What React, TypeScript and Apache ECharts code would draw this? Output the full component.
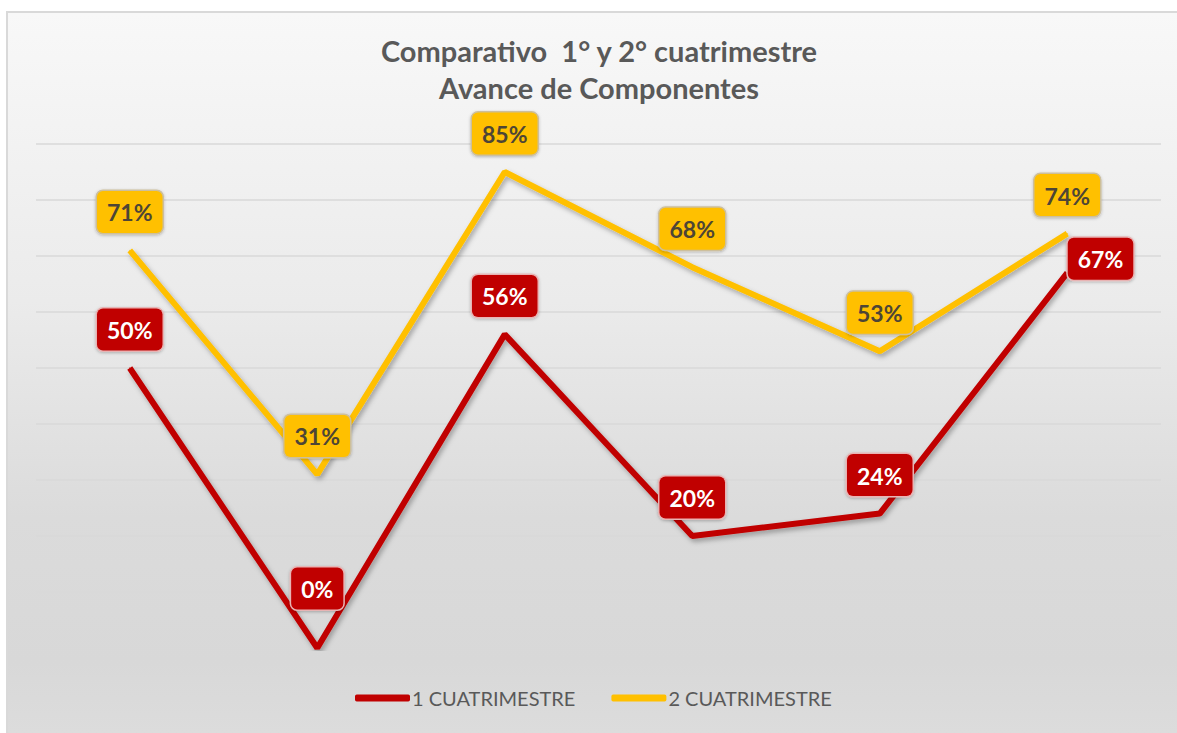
import React, { useEffect, useRef } from "react";
import * as echarts from "echarts";

const categories = ["C1", "C2", "C3", "C4", "C5", "C6"];
const serie1Name = "1 CUATRIMESTRE";
const serie2Name = "2 CUATRIMESTRE";
const serie1 = [50, 0, 56, 20, 24, 67];
const serie2 = [71, 31, 85, 68, 53, 74];
const titleLines = ["Comparativo  1° y 2° cuatrimestre", "Avance de Componentes"];

const RED = "#C00000";
const YELLOW = "#FFC000";
const FONT = "Lato, 'Open Sans', sans-serif";

export default function App() {
  const ref = useRef<HTMLDivElement>(null);
  useEffect(() => {
    if (!ref.current) return;
    const chart = echarts.init(ref.current, null, { renderer: "svg" });
    const labelBase = {
      show: true,
      position: "top",
      distance: 17,
      formatter: "{c}%",
      fontFamily: FONT,
      fontWeight: "bold",
      fontSize: 23,
      padding: [10, 10, 9, 10],
      borderRadius: 6,
      borderWidth: 1.5,
      shadowColor: "rgba(0,0,0,0.25)",
      shadowBlur: 3,
      shadowOffsetY: 1,
    };
    chart.setOption({
      animation: false,
      backgroundColor: "transparent",
      title: {
        text: titleLines.join("\n"),
        left: 594,
        textAlign: "center",
        top: 27,
        textStyle: {
          fontFamily: FONT,
          fontWeight: "bold",
          fontSize: 29,
          lineHeight: 37,
          color: "#595959",
        },
      },
      legend: {
        data: [serie1Name, serie2Name],
        bottom: 20,
        left: 350,
        icon: "roundRect",
        itemWidth: 55,
        itemHeight: 7,
        itemGap: 36,
        textStyle: { fontFamily: FONT, fontSize: 20, color: "#595959", padding: [0, 0, 0, -3] },
      },
      grid: { left: 36, right: 16, top: 144, bottom: 85 },
      xAxis: {
        type: "category",
        data: categories,
        boundaryGap: true,
        axisLine: { show: false },
        axisTick: { show: false },
        axisLabel: { show: false },
      },
      yAxis: {
        type: "value",
        min: 0,
        max: 90,
        interval: 10,
        axisLine: { show: false },
        axisTick: { show: false },
        axisLabel: { show: false },
        splitLine: { show: true, lineStyle: { color: "#d8d8d8", width: 1.5 } },
      },
      series: [
        {
          name: serie1Name,
          type: "line",
          data: serie1.map((v, i) =>
            i === 5
              ? { value: v, label: { position: "right", distance: 0, offset: [0, -14] } }
              : i === 1
              ? { value: v, label: { offset: [0, -21] } }
              : v
          ),
          symbol: "circle",
          symbolSize: 1,
          itemStyle: { color: RED },
          lineStyle: {
            color: RED,
            width: 6,
            shadowColor: "rgba(0,0,0,0.3)",
            shadowBlur: 5,
            shadowOffsetX: 2,
            shadowOffsetY: 3,
          },
          label: {
            ...labelBase,
            color: "#ffffff",
            backgroundColor: RED,
            borderColor: "#e8b4b4",
          },
          z: 3,
        },
        {
          name: serie2Name,
          type: "line",
          data: serie2,
          symbol: "circle",
          symbolSize: 1,
          itemStyle: { color: YELLOW },
          lineStyle: {
            color: YELLOW,
            width: 6,
            shadowColor: "rgba(0,0,0,0.3)",
            shadowBlur: 5,
            shadowOffsetX: 2,
            shadowOffsetY: 3,
          },
          label: {
            ...labelBase,
            color: "#4d4536",
            backgroundColor: YELLOW,
            borderColor: "#cdbf9c",
          },
          z: 2,
        },
      ],
    });
    return () => chart.dispose();
  }, []);

  return (
    <div style={{ position: "absolute", left: 0, top: 0, width: 1177, height: 733, overflow: "hidden", background: "#ffffff" }}>
      <div
        style={{
          position: "absolute",
          left: 6,
          top: 11,
          width: 1171,
          height: 722,
          boxSizing: "border-box",
          borderTop: "2px solid #d9d9d9",
          borderLeft: "2px solid #d9d9d9",
          background: "linear-gradient(to bottom, #f8f8f8 0%, #ebebeb 40%, #dbdbdb 70%, #d8d8d8 90%, #dcdcdc 100%)",
        }}
      />
      <div ref={ref} style={{ position: "absolute", left: 0, top: 0, width: 1177, height: 733 }} />
    </div>
  );
}
